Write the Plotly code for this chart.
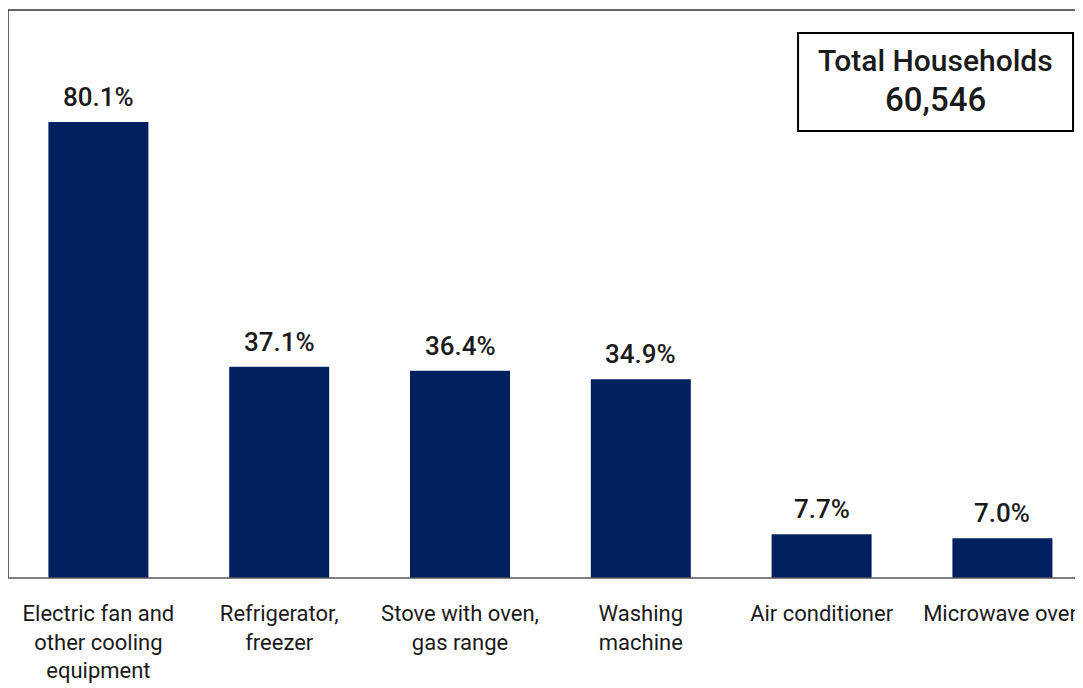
import plotly.graph_objects as go

categories = [
    "Electric fan and<br>other cooling<br>equipment",
    "Refrigerator,<br>freezer",
    "Stove with oven,<br>gas range",
    "Washing<br>machine",
    "Air conditioner",
    "Microwave oven",
]
values = [80.1, 37.1, 36.4, 34.9, 7.7, 7.0]
value_labels = ["80.1%", "37.1%", "36.4%", "34.9%", "7.7%", "7.0%"]
box_title = "Total Households"
box_value = "60,546"

W, H = 1083, 688
ML, MR, MT, MB = 0, 0, 2, 118

fig = go.Figure()
fig.add_trace(go.Bar(
    x=list(range(len(categories))),
    y=values,
    marker=dict(color="#002060", line=dict(width=0)),
    width=0.553,
    hoverinfo="skip",
))

for i, (v, lab) in enumerate(zip(values, value_labels)):
    fig.add_annotation(
        x=i, y=v, text=lab, showarrow=False,
        xref="x", yref="y", yanchor="bottom", yshift=8,
        font=dict(family="Roboto, Noto Sans, sans-serif", size=26, color="#1a1a1a", weight=500),
    )

# plot frame (left, top) and bottom axis line
fig.add_shape(type="line", xref="paper", yref="paper", x0=0, x1=0, y0=0, y1=1,
              line=dict(color="#333333", width=1.5))
fig.add_shape(type="line", xref="paper", yref="paper", x0=0, x1=1, y0=1, y1=1,
              line=dict(color="#333333", width=1.5))
fig.add_shape(type="line", xref="paper", yref="paper", x0=0, x1=1, y0=0, y1=0,
              line=dict(color="#555555", width=1.5))

# Total households box
fig.add_shape(type="rect", xref="paper", yref="paper",
              x0=0.7295, x1=0.9834, y0=0.787, y1=0.9595,
              line=dict(color="#000000", width=2), fillcolor="white")
fig.add_annotation(
    xref="paper", yref="paper", x=0.8564, y=0.9105, text=box_title, showarrow=False,
    xanchor="center", yanchor="middle",
    font=dict(family="Roboto, Noto Sans, sans-serif", size=30, color="#1a1a1a", weight=500),
)
fig.add_annotation(
    xref="paper", yref="paper", x=0.8564, y=0.843, text=box_value, showarrow=False,
    xanchor="center", yanchor="middle",
    font=dict(family="Roboto, Noto Sans, sans-serif", size=33, color="#1a1a1a", weight=500),
)

fig.update_layout(
    width=W, height=H,
    margin=dict(l=ML, r=MR, t=MT, b=MB),
    paper_bgcolor="white", plot_bgcolor="white",
    showlegend=False,
    xaxis=dict(
        range=[-0.5, 5.49],
        tickmode="array",
        tickvals=list(range(len(categories))),
        ticktext=categories,
        showgrid=False, zeroline=False, showline=False,
        ticks="", ticklabelstandoff=20, ticklabeloverflow="allow",
        tickfont=dict(family="Liberation Sans Narrow, Arial Narrow, Roboto, sans-serif", size=22, color="#1a1a1a"),
        fixedrange=True,
    ),
    yaxis=dict(
        range=[0, 99.8],
        showgrid=False, zeroline=False, showline=False, showticklabels=False, ticks="",
        fixedrange=True,
    ),
)

fig.write_html("out.html")
